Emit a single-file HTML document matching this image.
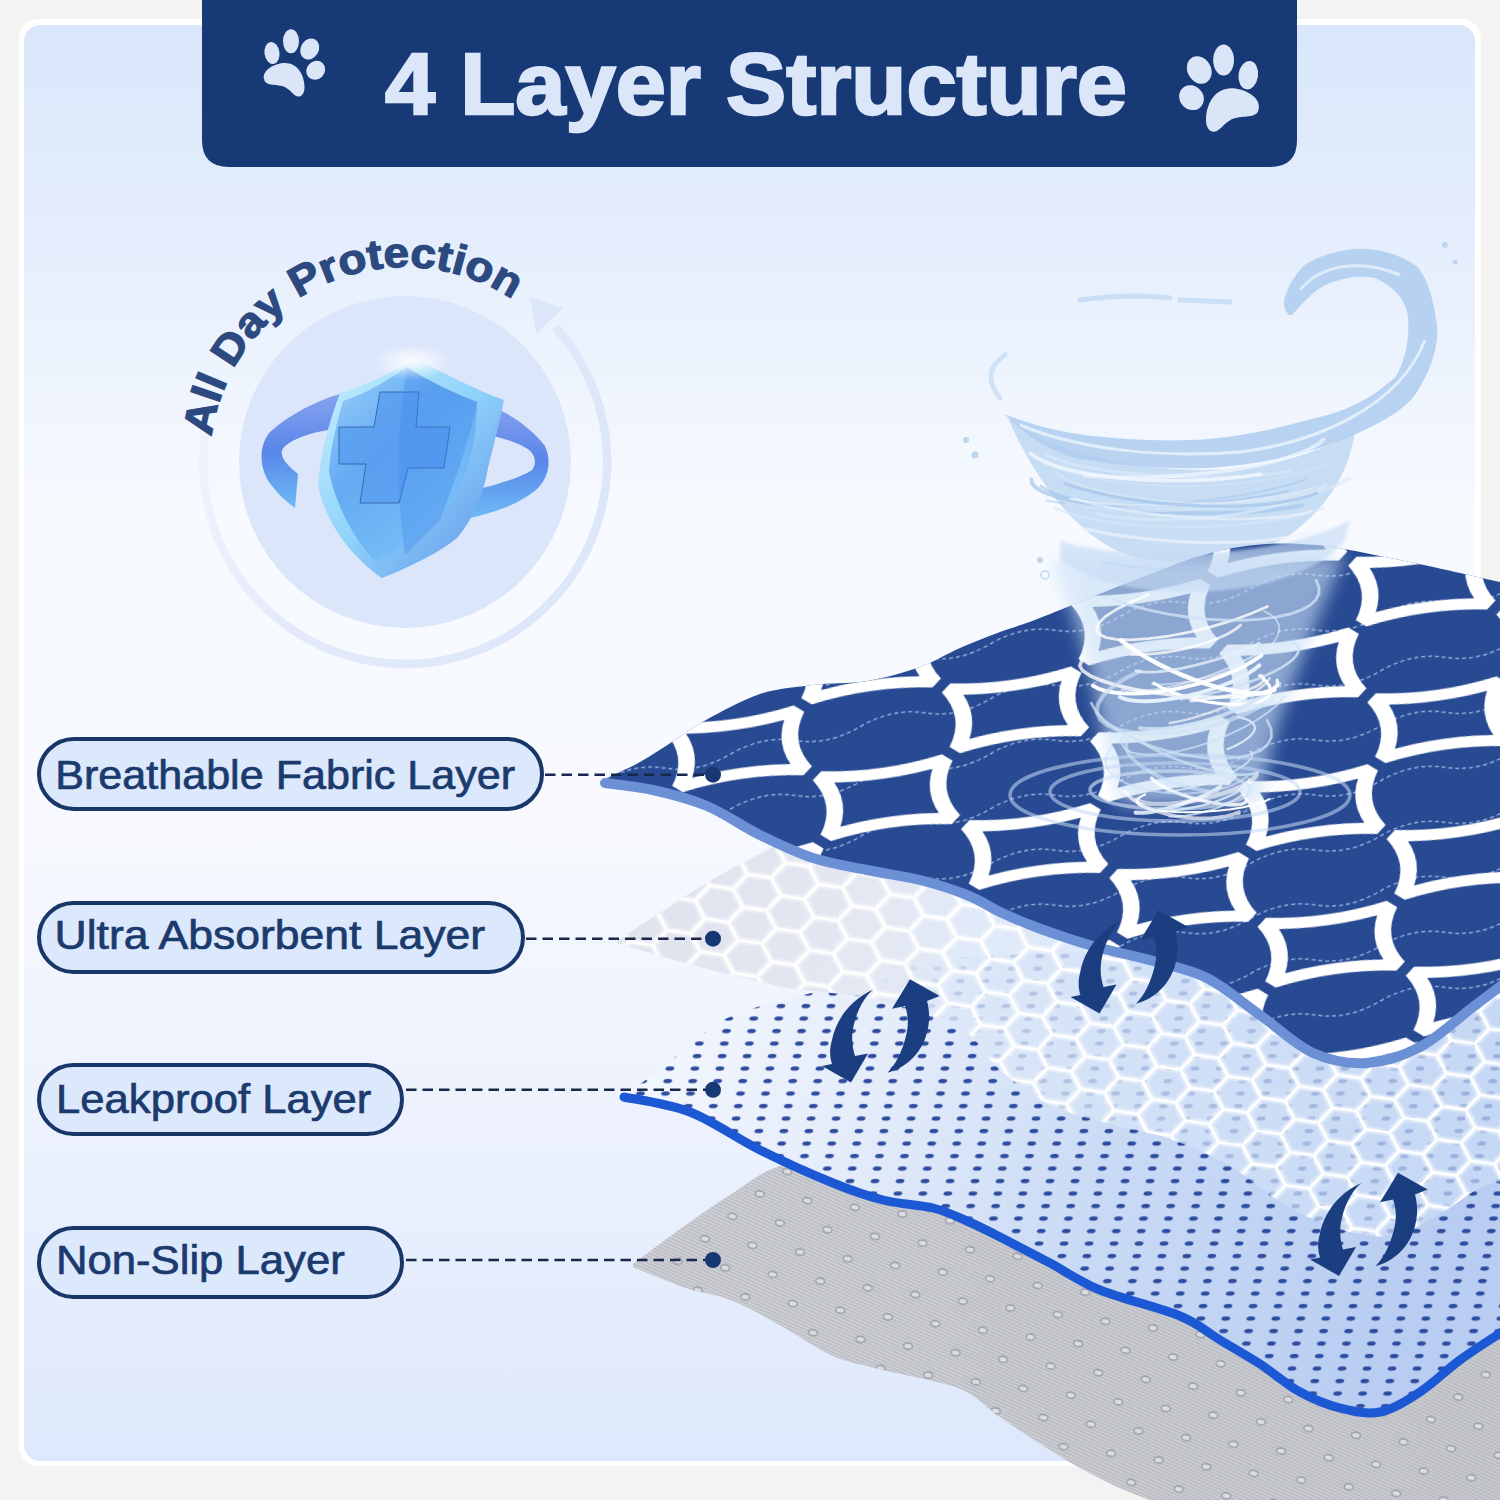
<!DOCTYPE html>
<html><head><meta charset="utf-8">
<style>
html,body{margin:0;padding:0;width:1500px;height:1500px;overflow:hidden;background:#f3f3f2;}
svg{display:block;position:absolute;left:0;top:0;}
text{font-family:"Liberation Sans",sans-serif;}
</style></head>
<body>
<svg width="1500" height="1500" viewBox="0 0 1500 1500">
<defs>
  <linearGradient id="cardg" x1="0" y1="0" x2="0" y2="1">
    <stop offset="0" stop-color="#d9e6fb"/>
    <stop offset="0.12" stop-color="#e2ecfc"/>
    <stop offset="0.34" stop-color="#f7faff"/>
    <stop offset="0.55" stop-color="#f7f9fe"/>
    <stop offset="0.75" stop-color="#edf2fd"/>
    <stop offset="1" stop-color="#dde8fc"/>
  </linearGradient>
  <linearGradient id="grayg" x1="0" y1="0" x2="1" y2="0">
    <stop offset="0" stop-color="#ced0d6"/>
    <stop offset="1" stop-color="#c8cad0"/>
  </linearGradient>
  <pattern id="stripes" width="6" height="3.2" patternUnits="userSpaceOnUse" patternTransform="rotate(24)">
    <rect width="6" height="1.3" fill="#a9abb3" opacity="0.55"/>
  </pattern>
  <pattern id="grdots" width="48" height="52" patternUnits="userSpaceOnUse" patternTransform="translate(640,1270) rotate(8)">
    <ellipse cx="12" cy="12" rx="4.5" ry="3" fill="#dcdde2" stroke="#999ca4" stroke-width="1.4"/>
    <ellipse cx="36" cy="38" rx="4.5" ry="3" fill="#dcdde2" stroke="#999ca4" stroke-width="1.4"/>
  </pattern>
  <linearGradient id="leakg" x1="640" y1="1020" x2="1400" y2="1330" gradientUnits="userSpaceOnUse">
    <stop offset="0" stop-color="#f4f7fd"/>
    <stop offset="0.3" stop-color="#e4ecfa"/>
    <stop offset="0.6" stop-color="#c9daf5"/>
    <stop offset="1" stop-color="#b8cdf1"/>
  </linearGradient>
  <pattern id="dots" width="25" height="12.5" patternUnits="userSpaceOnUse" patternTransform="translate(620,1000) skewX(-10)">
    <ellipse cx="12" cy="6" rx="4.3" ry="2.2" fill="#2e4c9f"/>
  </pattern>
  <linearGradient id="honeyg" x1="617" y1="900" x2="1450" y2="1150" gradientUnits="userSpaceOnUse">
    <stop offset="0" stop-color="#e0e3ed"/>
    <stop offset="0.3" stop-color="#e4e8f2"/>
    <stop offset="0.42" stop-color="#dbe7f8" stop-opacity="0.8"/>
    <stop offset="1" stop-color="#cadcf6" stop-opacity="0.7"/>
  </linearGradient>
  <pattern id="hex" width="72" height="41.6" patternUnits="userSpaceOnUse" patternTransform="translate(617,940) rotate(8) scale(1,0.8)">
    <path d="M0,20.8 L12,0 L36,0 L48,20.8 L36,41.6 L12,41.6 Z M48,20.8 L72,20.8" fill="none" stroke="#ffffff" stroke-width="9" opacity="0.35"/>
    <path d="M0,20.8 L12,0 L36,0 L48,20.8 L36,41.6 L12,41.6 Z M48,20.8 L72,20.8" fill="none" stroke="#ffffff" stroke-width="3.4"/>
  </pattern>
  <pattern id="trellis" width="160" height="120" patternUnits="userSpaceOnUse" patternTransform="translate(590,700) rotate(-8) scale(1.75,1.15)">
    <path d="M-36,-26 Q0,-17 36,-26 Q24,0 36,26 Q0,17 -36,26 Q-24,0 -36,-26 Z M124,-26 Q160,-17 196,-26 Q184,0 196,26 Q160,17 124,26 Q136,0 124,-26 Z M-36,94 Q0,103 36,94 Q24,120 36,146 Q0,137 -36,146 Q-24,120 -36,94 Z M124,94 Q160,103 196,94 Q184,120 196,146 Q160,137 124,146 Q136,120 124,94 Z M44,34 Q80,43 116,34 Q104,60 116,86 Q80,77 44,86 Q56,60 44,34 Z" fill="none" stroke="#ffffff" stroke-width="9.5" stroke-linejoin="miter" stroke-miterlimit="1.6"/>
  </pattern>
  <pattern id="stitch" width="130" height="55" patternUnits="userSpaceOnUse" patternTransform="translate(600,700) skewY(-12)">
    <path d="M0,27 Q32,15 65,27 T130,27" fill="none" stroke="#9fb6e3" stroke-width="1.3" stroke-dasharray="4 3"/>
  </pattern>
  <linearGradient id="ribg" x1="0" y1="0" x2="0" y2="1">
    <stop offset="0" stop-color="#86a2f0"/>
    <stop offset="0.5" stop-color="#5a86e8"/>
    <stop offset="1" stop-color="#6cbaf6"/>
  </linearGradient>
  <linearGradient id="shrim" x1="0" y1="0" x2="1" y2="1">
    <stop offset="0" stop-color="#c8f0ff"/>
    <stop offset="0.5" stop-color="#8fd2fa"/>
    <stop offset="1" stop-color="#5b8fe8"/>
  </linearGradient>
  <linearGradient id="shin" x1="0" y1="0" x2="0.7" y2="1">
    <stop offset="0" stop-color="#9ed2fa"/>
    <stop offset="0.45" stop-color="#64aaf3"/>
    <stop offset="1" stop-color="#7cc2f8"/>
  </linearGradient>
  <radialGradient id="glow" cx="0.5" cy="0.5" r="0.5">
    <stop offset="0" stop-color="#ffffff" stop-opacity="0.9"/>
    <stop offset="1" stop-color="#ffffff" stop-opacity="0"/>
  </radialGradient>
  <linearGradient id="ringg" x1="0" y1="0" x2="1" y2="0.3">
    <stop offset="0" stop-color="#f1f5fd"/>
    <stop offset="0.45" stop-color="#e3eafa"/>
    <stop offset="1" stop-color="#dde7f9"/>
  </linearGradient>
  <filter id="blur6" x="-20%" y="-20%" width="140%" height="140%"><feGaussianBlur stdDeviation="8"/></filter>
  <filter id="blur2" x="-20%" y="-20%" width="140%" height="140%"><feGaussianBlur stdDeviation="1.5"/></filter>
</defs>

<!-- card -->
<rect x="19" y="19" width="1462" height="1447" rx="20" fill="#ffffff"/>
<rect x="24" y="25" width="1451" height="1436" rx="16" fill="url(#cardg)"/>

<!-- ===== protection badge ===== -->
<g id="badge">
  <path d="M555.1,326.8 A202,202 0 1 1 205.0,433.9" fill="none" stroke="url(#ringg)" stroke-width="8.5"/>
  <path d="M529.6,297.2 L563.2,307.9 L536.5,332.9 Z" fill="#dbe6f8"/>
  <circle cx="405" cy="462" r="166" fill="#dbe6fb"/>
  <path id="arcp" d="M211.6,436.9 A195,195 0 0 1 597.0,428.1" fill="none"/>
  <text font-size="42" font-weight="bold" fill="#2c4a80" stroke="#2c4a80" stroke-width="1.2"><textPath href="#arcp" textLength="395.1" lengthAdjust="spacingAndGlyphs">All Day Protection</textPath></text>
  <!-- shield -->
  <g>
    <!-- ribbon left -->
    <path d="M340,394 C318,400 290,414 270,432 C258,446 259,470 272,486 C280,496 288,503 295,508 L298,474 C288,466 280,458 282,450 C288,440 310,432 340,428 Z" fill="url(#ribg)"/>
    <!-- ribbon right -->
    <path d="M478,401 C505,410 530,426 545,446 C552,462 548,478 538,488 C522,503 496,512 470,518 L476,490 C498,484 520,478 532,470 C538,462 534,452 526,448 C512,440 496,436 480,434 Z" fill="url(#ribg)"/>
    <!-- shield rim -->
    <path d="M415,359 C392,372 366,386 340,393 C330,420 320,452 318,485 C324,520 350,556 382,578 C412,566 440,552 457,538 C474,518 484,492 488,468 C494,444 500,420 504,400 C476,390 442,372 415,359 Z" fill="url(#shrim)"/>
    <!-- shield inner -->
    <path d="M407,367 C388,380 366,394 343,401 C336,426 330,450 329,472 C336,505 354,540 376,562 C402,548 428,530 446,510 C462,488 470,464 474,440 C476,428 477,414 477,402 C452,392 430,382 407,367 Z" fill="url(#shin)"/>
    <!-- cross -->
    <path d="M380,392 H419 L416,427 H450 L444,468 H408 L399,503 H360 L366,464 H339 L339,427 H374 Z" fill="#5a9ff0" stroke="#2e5da6" stroke-width="1" opacity="0.85"/>
    <path d="M407,367 C398,420 395,480 405,555 L440,520 C455,480 470,440 477,402 C452,392 430,382 407,367 Z" fill="#3f88ec" opacity="0.35"/>
    <ellipse cx="412" cy="362" rx="40" ry="18" fill="url(#glow)"/>
  </g>
</g>

<!-- ===== tornado ===== -->
<g id="tornado">
  <!-- bowl body -->
  <path d="M1008,418 C1030,470 1070,530 1120,552 C1170,570 1240,565 1290,535 C1330,505 1350,470 1355,430 C1320,455 1260,470 1200,470 C1120,468 1050,450 1008,418 Z" fill="#b4d1f0" opacity="0.7"/>
  <!-- top curl band -->
  <path d="M1004.7,414.3 C1030,440 1060,456 1085,459.8 C1130,467 1170,469 1209,468 C1260,464 1300,456 1333,443 C1375,428 1405,410 1416,393.6 C1430,372 1440,345 1436.7,323 C1432,290 1425,275 1416,265.5 C1395,252 1375,248 1354,249 C1330,252 1315,258 1304,265.5 C1292,278 1286,290 1283.8,302.7 C1284,310 1288,316 1292,315 C1305,300 1318,286 1333,282 C1350,276 1362,276 1374.7,277.9 C1392,285 1405,298 1407.8,315 C1410,340 1405,362 1395.4,377 C1370,400 1345,412 1312.7,418.4 C1280,428 1245,436 1209,439 C1170,442 1125,440 1085,435 C1050,430 1025,422 1004.7,414.3 Z" fill="#aecdef" opacity="0.85"/>
  <path d="M1020,425 C1080,450 1160,458 1240,452 C1320,442 1400,405 1425,340" fill="none" stroke="#e6f1fc" stroke-width="3" opacity="0.9"/>
  <path d="M1300,290 C1320,265 1360,258 1400,275" fill="none" stroke="#e6f1fc" stroke-width="3" opacity="0.8"/>
  <g fill="none" stroke-linecap="round">
    <path d="M1306.3,479.4 L1294.1,483.3 L1280.2,487.1 L1264.8,490.7 L1248.0,494.0 L1230.2,496.9 L1211.7,499.6 L1192.7,501.8 L1173.5,503.6 L1154.3,504.9 L1135.6,505.7 L1117.6,506.1 L1100.5,506.0 L1084.6,505.3 L1070.2,504.2 L1057.5,502.6 L1046.6,500.5" stroke="#a7c7ec" stroke-width="2.0" opacity="0.53"/>
    <path d="M1301.8,505.4 L1285.6,508.3 L1266.8,510.5 L1246.0,512.1 L1223.6,513.0 L1200.2,513.3 L1176.4,512.8 L1152.8,511.6 L1129.9,509.8 L1108.4,507.3 L1088.6,504.3 L1071.2,500.8 L1056.5,496.9 L1045.0,492.7 L1036.8,488.3 L1032.2,483.8 L1031.4,479.4" stroke="#a7c7ec" stroke-width="3.9" opacity="0.73"/>
    <path d="M1325.8,484.9 L1318.1,489.9 L1308.5,494.7 L1297.1,499.2 L1284.3,503.4 L1270.2,507.3 L1254.9,510.7 L1238.8,513.7 L1222.0,516.0 L1204.8,517.9 L1187.6,519.1 L1170.5,519.7 L1153.8,519.7 L1137.8,519.0 L1122.6,517.8 L1108.7,515.9 L1096.1,513.5" stroke="#d9e8f8" stroke-width="2.9" opacity="0.77"/>
    <path d="M1289.3,471.3 L1275.1,473.3 L1259.4,474.9 L1242.6,476.0 L1224.9,476.8 L1206.6,477.0 L1187.9,476.9 L1169.2,476.3 L1150.8,475.2 L1132.9,473.7 L1115.9,471.8 L1099.9,469.5 L1085.3,466.9 L1072.4,464.0 L1061.2,460.9 L1051.9,457.5 L1044.8,454.1" stroke="#d9e8f8" stroke-width="3.2" opacity="0.67"/>
    <path d="M1287.8,491.0 L1272.2,494.4 L1255.3,497.3 L1237.2,499.9 L1218.2,501.9 L1198.8,503.5 L1179.2,504.5 L1159.8,505.0 L1140.9,504.8 L1122.7,504.2 L1105.7,503.0 L1090.1,501.2 L1076.1,499.0 L1064.0,496.2 L1053.9,493.1 L1046.2,489.6 L1040.8,485.8" stroke="#a7c7ec" stroke-width="2.3" opacity="0.70"/>
    <path d="M1312.7,488.6 L1301.8,491.5 L1289.5,494.2 L1275.8,496.7 L1261.1,498.9 L1245.3,500.9 L1228.8,502.5 L1211.8,503.8 L1194.5,504.7 L1177.0,505.2 L1159.7,505.4 L1142.7,505.2 L1126.2,504.6 L1110.6,503.6 L1095.9,502.3 L1082.3,500.7 L1070.1,498.7" stroke="#d9e8f8" stroke-width="2.6" opacity="0.88"/>
    <path d="M1331.8,460.9 L1320.6,466.1 L1307.0,470.9 L1291.2,475.2 L1273.5,478.8 L1254.2,481.7 L1233.7,483.9 L1212.4,485.3 L1190.6,486.0 L1168.6,485.8 L1147.0,484.8 L1126.1,483.0 L1106.2,480.4 L1087.7,477.1 L1070.9,473.2 L1056.2,468.7 L1043.7,463.7" stroke="#d9e8f8" stroke-width="1.7" opacity="0.54"/>
    <path d="M1318.5,485.9 L1307.8,490.4 L1294.5,494.4 L1278.9,497.7 L1261.4,500.2 L1242.3,502.0 L1222.0,503.0 L1201.1,503.1 L1179.9,502.3 L1158.9,500.8 L1138.7,498.4 L1119.5,495.3 L1102.0,491.5 L1086.4,487.1 L1073.1,482.2 L1062.4,476.9 L1054.5,471.4" stroke="#d9e8f8" stroke-width="2.2" opacity="0.65"/>
    <path d="M1314.6,528.7 L1308.4,531.7 L1300.1,534.5 L1289.9,536.9 L1277.9,538.9 L1264.3,540.5 L1249.3,541.6 L1233.2,542.3 L1216.2,542.6 L1198.6,542.3 L1180.8,541.6 L1162.9,540.4 L1145.3,538.8 L1128.3,536.7 L1112.2,534.3 L1097.1,531.5 L1083.5,528.5" stroke="#eef5fd" stroke-width="3.3" opacity="0.66"/>
    <path d="M1298.6,551.7 L1291.8,554.8 L1283.6,557.7 L1273.8,560.3 L1262.8,562.7 L1250.7,564.7 L1237.6,566.5 L1223.8,567.8 L1209.5,568.8 L1194.9,569.3 L1180.2,569.4 L1165.6,569.2 L1151.4,568.5 L1137.9,567.4 L1125.1,565.9 L1113.3,564.0 L1102.7,561.9" stroke="#a7c7ec" stroke-width="2.2" opacity="0.67"/>
    <path d="M1349.9,478.4 L1341.7,482.8 L1330.7,487.2 L1317.3,491.4 L1301.7,495.3 L1284.1,498.9 L1264.9,502.1 L1244.4,504.8 L1223.1,506.9 L1201.2,508.6 L1179.2,509.6 L1157.5,510.1 L1136.5,509.9 L1116.6,509.1 L1098.1,507.8 L1081.3,505.8 L1066.7,503.3" stroke="#d9e8f8" stroke-width="3.6" opacity="0.57"/>
    <path d="M1316.4,493.2 L1307.0,496.6 L1295.7,499.5 L1282.7,502.0 L1268.2,503.9 L1252.4,505.3 L1235.5,506.1 L1217.8,506.3 L1199.5,505.9 L1181.0,504.9 L1162.4,503.4 L1144.1,501.3 L1126.3,498.7 L1109.2,495.6 L1093.2,492.0 L1078.5,488.1 L1065.2,483.8" stroke="#a7c7ec" stroke-width="3.1" opacity="0.80"/>
    <path d="M1323.6,508.0 L1310.4,512.2 L1295.5,516.0 L1279.0,519.3 L1261.3,522.0 L1242.6,524.2 L1223.1,525.8 L1203.3,526.8 L1183.3,527.1 L1163.5,526.8 L1144.2,525.8 L1125.8,524.2 L1108.4,522.0 L1092.3,519.2 L1077.9,515.9 L1065.3,512.1 L1054.7,507.9" stroke="#d9e8f8" stroke-width="3.1" opacity="0.52"/>
    <path d="M1323.4,439.5 L1318.4,443.9 L1311.0,448.3 L1301.5,452.6 L1290.0,456.7 L1276.6,460.7 L1261.7,464.3 L1245.3,467.6 L1227.9,470.5 L1209.6,472.9 L1190.8,474.8 L1171.8,476.2 L1152.9,477.1 L1134.5,477.4 L1116.7,477.2 L1100.0,476.3 L1084.5,475.0" stroke="#eef5fd" stroke-width="3.9" opacity="0.75"/>
    <path d="M1260.5,474.2 L1245.0,476.5 L1228.6,478.3 L1211.6,479.6 L1194.1,480.4 L1176.4,480.7 L1158.8,480.5 L1141.3,479.8 L1124.4,478.5 L1108.2,476.8 L1092.9,474.6 L1078.7,471.9 L1065.8,468.9 L1054.5,465.5 L1044.7,461.7 L1036.7,457.7 L1030.6,453.5" stroke="#eef5fd" stroke-width="3.6" opacity="0.90"/>
    <path d="M1311.7,511.3 L1302.4,513.6 L1291.2,515.6 L1278.3,517.1 L1263.9,518.2 L1248.4,518.8 L1231.8,519.0 L1214.5,518.7 L1196.8,518.0 L1179.0,516.7 L1161.3,515.1 L1144.0,513.1 L1127.5,510.7 L1112.0,507.9 L1097.8,504.9 L1085.0,501.7 L1073.9,498.2" stroke="#eef5fd" stroke-width="2.8" opacity="0.58"/>
    <path d="M1080,300 C1110,296 1140,294 1170,298 M1180,300 L1230,302" stroke="#bcd6f2" stroke-width="5" opacity="0.7"/>
    <path d="M1000,398 C985,380 990,365 1005,355" stroke="#bcd6f2" stroke-width="5" opacity="0.6"/>
    <circle cx="966" cy="440" r="3" fill="#bcd6f2" stroke="none"/>
    <circle cx="975" cy="455" r="3.5" fill="#bcd6f2" stroke="none"/>
    <circle cx="1040" cy="560" r="3" fill="#bcd6f2" stroke="none"/>
    <circle cx="1045" cy="575" r="4" fill="none" stroke="#bcd6f2" stroke-width="1.5"/>
    <circle cx="1445" cy="245" r="3" fill="#bcd6f2" stroke="none"/>
    <circle cx="1455" cy="262" r="2.5" fill="#bcd6f2" stroke="none"/>
  </g>
</g>

<!-- ===== LAYERS ===== -->
<g id="layers">
  <path d="M633.0,1264.0 C641.3,1257.8 666.3,1238.8 683.0,1227.0 C699.7,1215.2 717.3,1203.0 733.0,1193.0 C748.7,1183.0 757.5,1174.2 777.0,1167.0 C796.5,1159.8 812.8,1154.5 850.0,1150.0 C887.2,1145.5 891.7,1141.7 1000.0,1140.0 C1108.3,1138.3 1416.7,1140.0 1500.0,1140.0 L1500,1500 L1150,1500 L1150.0,1500.0 C1145.0,1498.0 1131.7,1493.3 1120.0,1488.0 C1108.3,1482.7 1091.7,1474.3 1080.0,1468.0 C1068.3,1461.7 1063.3,1458.5 1050.0,1450.0 C1036.7,1441.5 1013.8,1426.7 1000.0,1417.0 C986.2,1407.3 978.2,1398.0 967.0,1392.0 C955.8,1386.0 947.0,1384.7 933.0,1381.0 C919.0,1377.3 899.7,1374.2 883.0,1370.0 C866.3,1365.8 849.7,1363.2 833.0,1356.0 C816.3,1348.8 799.7,1336.2 783.0,1327.0 C766.3,1317.8 749.7,1307.7 733.0,1301.0 C716.3,1294.3 699.7,1292.7 683.0,1287.0 C666.3,1281.3 641.3,1270.3 633.0,1267.0 Z" fill="url(#grayg)"/>
  <path d="M633.0,1264.0 C641.3,1257.8 666.3,1238.8 683.0,1227.0 C699.7,1215.2 717.3,1203.0 733.0,1193.0 C748.7,1183.0 757.5,1174.2 777.0,1167.0 C796.5,1159.8 812.8,1154.5 850.0,1150.0 C887.2,1145.5 891.7,1141.7 1000.0,1140.0 C1108.3,1138.3 1416.7,1140.0 1500.0,1140.0 L1500,1500 L1150,1500 L1150.0,1500.0 C1145.0,1498.0 1131.7,1493.3 1120.0,1488.0 C1108.3,1482.7 1091.7,1474.3 1080.0,1468.0 C1068.3,1461.7 1063.3,1458.5 1050.0,1450.0 C1036.7,1441.5 1013.8,1426.7 1000.0,1417.0 C986.2,1407.3 978.2,1398.0 967.0,1392.0 C955.8,1386.0 947.0,1384.7 933.0,1381.0 C919.0,1377.3 899.7,1374.2 883.0,1370.0 C866.3,1365.8 849.7,1363.2 833.0,1356.0 C816.3,1348.8 799.7,1336.2 783.0,1327.0 C766.3,1317.8 749.7,1307.7 733.0,1301.0 C716.3,1294.3 699.7,1292.7 683.0,1287.0 C666.3,1281.3 641.3,1270.3 633.0,1267.0 Z" fill="url(#stripes)"/>
  <path d="M633.0,1264.0 C641.3,1257.8 666.3,1238.8 683.0,1227.0 C699.7,1215.2 717.3,1203.0 733.0,1193.0 C748.7,1183.0 757.5,1174.2 777.0,1167.0 C796.5,1159.8 812.8,1154.5 850.0,1150.0 C887.2,1145.5 891.7,1141.7 1000.0,1140.0 C1108.3,1138.3 1416.7,1140.0 1500.0,1140.0 L1500,1500 L1150,1500 L1150.0,1500.0 C1145.0,1498.0 1131.7,1493.3 1120.0,1488.0 C1108.3,1482.7 1091.7,1474.3 1080.0,1468.0 C1068.3,1461.7 1063.3,1458.5 1050.0,1450.0 C1036.7,1441.5 1013.8,1426.7 1000.0,1417.0 C986.2,1407.3 978.2,1398.0 967.0,1392.0 C955.8,1386.0 947.0,1384.7 933.0,1381.0 C919.0,1377.3 899.7,1374.2 883.0,1370.0 C866.3,1365.8 849.7,1363.2 833.0,1356.0 C816.3,1348.8 799.7,1336.2 783.0,1327.0 C766.3,1317.8 749.7,1307.7 733.0,1301.0 C716.3,1294.3 699.7,1292.7 683.0,1287.0 C666.3,1281.3 641.3,1270.3 633.0,1267.0 Z" fill="url(#grdots)"/>
  <path d="M624.0,1094.0 C630.0,1090.0 644.0,1082.0 660.0,1070.0 C676.0,1058.0 700.0,1033.5 720.0,1022.0 C740.0,1010.5 758.3,1007.2 780.0,1001.0 C801.7,994.8 813.3,992.7 850.0,985.0 C886.7,977.3 891.7,960.8 1000.0,955.0 C1108.3,949.2 1416.7,950.8 1500.0,950.0 L1500,1332 L1502.0,1332.0 C1495.0,1336.7 1473.7,1350.0 1460.0,1360.0 C1446.3,1370.0 1433.3,1383.3 1420.0,1392.0 C1406.7,1400.7 1393.3,1409.3 1380.0,1412.0 C1366.7,1414.7 1353.3,1411.3 1340.0,1408.0 C1326.7,1404.7 1313.3,1399.3 1300.0,1392.0 C1286.7,1384.7 1273.3,1372.7 1260.0,1364.0 C1246.7,1355.3 1233.3,1348.0 1220.0,1340.0 C1206.7,1332.0 1200.0,1324.3 1180.0,1316.0 C1160.0,1307.7 1121.7,1298.8 1100.0,1290.0 C1078.3,1281.2 1066.7,1271.8 1050.0,1263.0 C1033.3,1254.2 1013.8,1244.0 1000.0,1237.0 C986.2,1230.0 978.2,1225.8 967.0,1221.0 C955.8,1216.2 947.0,1211.5 933.0,1208.0 C919.0,1204.5 899.7,1204.2 883.0,1200.0 C866.3,1195.8 853.5,1191.3 833.0,1183.0 C812.5,1174.7 783.8,1161.8 760.0,1150.0 C736.2,1138.2 712.7,1120.8 690.0,1112.0 C667.3,1103.2 635.0,1099.5 624.0,1097.0 Z" fill="url(#leakg)"/>
  <path d="M624.0,1094.0 C630.0,1090.0 644.0,1082.0 660.0,1070.0 C676.0,1058.0 700.0,1033.5 720.0,1022.0 C740.0,1010.5 758.3,1007.2 780.0,1001.0 C801.7,994.8 813.3,992.7 850.0,985.0 C886.7,977.3 891.7,960.8 1000.0,955.0 C1108.3,949.2 1416.7,950.8 1500.0,950.0 L1500,1332 L1502.0,1332.0 C1495.0,1336.7 1473.7,1350.0 1460.0,1360.0 C1446.3,1370.0 1433.3,1383.3 1420.0,1392.0 C1406.7,1400.7 1393.3,1409.3 1380.0,1412.0 C1366.7,1414.7 1353.3,1411.3 1340.0,1408.0 C1326.7,1404.7 1313.3,1399.3 1300.0,1392.0 C1286.7,1384.7 1273.3,1372.7 1260.0,1364.0 C1246.7,1355.3 1233.3,1348.0 1220.0,1340.0 C1206.7,1332.0 1200.0,1324.3 1180.0,1316.0 C1160.0,1307.7 1121.7,1298.8 1100.0,1290.0 C1078.3,1281.2 1066.7,1271.8 1050.0,1263.0 C1033.3,1254.2 1013.8,1244.0 1000.0,1237.0 C986.2,1230.0 978.2,1225.8 967.0,1221.0 C955.8,1216.2 947.0,1211.5 933.0,1208.0 C919.0,1204.5 899.7,1204.2 883.0,1200.0 C866.3,1195.8 853.5,1191.3 833.0,1183.0 C812.5,1174.7 783.8,1161.8 760.0,1150.0 C736.2,1138.2 712.7,1120.8 690.0,1112.0 C667.3,1103.2 635.0,1099.5 624.0,1097.0 Z" fill="url(#dots)"/>
  <path d="M1502.0,1332.0 C1495.0,1336.7 1473.7,1350.0 1460.0,1360.0 C1446.3,1370.0 1433.3,1383.3 1420.0,1392.0 C1406.7,1400.7 1393.3,1409.3 1380.0,1412.0 C1366.7,1414.7 1353.3,1411.3 1340.0,1408.0 C1326.7,1404.7 1313.3,1399.3 1300.0,1392.0 C1286.7,1384.7 1273.3,1372.7 1260.0,1364.0 C1246.7,1355.3 1233.3,1348.0 1220.0,1340.0 C1206.7,1332.0 1200.0,1324.3 1180.0,1316.0 C1160.0,1307.7 1121.7,1298.8 1100.0,1290.0 C1078.3,1281.2 1066.7,1271.8 1050.0,1263.0 C1033.3,1254.2 1013.8,1244.0 1000.0,1237.0 C986.2,1230.0 978.2,1225.8 967.0,1221.0 C955.8,1216.2 947.0,1211.5 933.0,1208.0 C919.0,1204.5 899.7,1204.2 883.0,1200.0 C866.3,1195.8 853.5,1191.3 833.0,1183.0 C812.5,1174.7 783.8,1161.8 760.0,1150.0 C736.2,1138.2 712.7,1120.8 690.0,1112.0 C667.3,1103.2 635.0,1099.5 624.0,1097.0" fill="none" stroke="#1d58d4" stroke-width="9" stroke-linecap="round"/>
  <path d="M617.0,941.0 C630.8,932.0 675.0,902.2 700.0,887.0 C725.0,871.8 750.3,858.7 767.0,850.0 C783.7,841.3 777.8,843.3 800.0,835.0 C822.2,826.7 783.3,805.8 900.0,800.0 C1016.7,794.2 1400.0,800.0 1500.0,800.0 L1500.0,1181.0 C1496.0,1182.5 1486.0,1184.5 1476.0,1190.0 C1466.0,1195.5 1453.5,1206.5 1440.0,1214.0 C1426.5,1221.5 1410.0,1232.0 1395.0,1235.0 C1380.0,1238.0 1367.5,1236.5 1350.0,1232.0 C1332.5,1227.5 1310.0,1219.0 1290.0,1208.0 C1270.0,1197.0 1250.0,1177.5 1230.0,1166.0 C1210.0,1154.5 1190.0,1146.0 1170.0,1139.0 C1150.0,1132.0 1130.0,1129.7 1110.0,1124.0 C1090.0,1118.3 1068.3,1114.0 1050.0,1105.0 C1031.7,1096.0 1015.0,1082.8 1000.0,1070.0 C985.0,1057.2 980.0,1039.7 960.0,1028.0 C940.0,1016.3 901.2,1005.8 880.0,1000.0 C858.8,994.2 849.2,995.2 833.0,993.0 C816.8,990.8 805.2,991.3 783.0,987.0 C760.8,982.7 727.7,974.3 700.0,967.0 C672.3,959.7 630.8,947.0 617.0,943.0 Z" fill="url(#honeyg)"/>
  <path d="M617.0,941.0 C630.8,932.0 675.0,902.2 700.0,887.0 C725.0,871.8 750.3,858.7 767.0,850.0 C783.7,841.3 777.8,843.3 800.0,835.0 C822.2,826.7 783.3,805.8 900.0,800.0 C1016.7,794.2 1400.0,800.0 1500.0,800.0 L1500.0,1181.0 C1496.0,1182.5 1486.0,1184.5 1476.0,1190.0 C1466.0,1195.5 1453.5,1206.5 1440.0,1214.0 C1426.5,1221.5 1410.0,1232.0 1395.0,1235.0 C1380.0,1238.0 1367.5,1236.5 1350.0,1232.0 C1332.5,1227.5 1310.0,1219.0 1290.0,1208.0 C1270.0,1197.0 1250.0,1177.5 1230.0,1166.0 C1210.0,1154.5 1190.0,1146.0 1170.0,1139.0 C1150.0,1132.0 1130.0,1129.7 1110.0,1124.0 C1090.0,1118.3 1068.3,1114.0 1050.0,1105.0 C1031.7,1096.0 1015.0,1082.8 1000.0,1070.0 C985.0,1057.2 980.0,1039.7 960.0,1028.0 C940.0,1016.3 901.2,1005.8 880.0,1000.0 C858.8,994.2 849.2,995.2 833.0,993.0 C816.8,990.8 805.2,991.3 783.0,987.0 C760.8,982.7 727.7,974.3 700.0,967.0 C672.3,959.7 630.8,947.0 617.0,943.0 Z" fill="url(#hex)"/>
  <path d="M605.0,779.0 C610.8,776.2 628.8,768.2 640.0,762.0 C651.2,755.8 661.0,749.0 672.0,742.0 C683.0,735.0 691.3,728.0 706.0,720.0 C720.7,712.0 742.2,699.8 760.0,694.0 C777.8,688.2 795.2,687.2 813.0,685.0 C830.8,682.8 849.2,684.0 867.0,681.0 C884.8,678.0 904.5,672.5 920.0,667.0 C935.5,661.5 946.7,653.8 960.0,648.0 C973.3,642.2 986.7,637.0 1000.0,632.0 C1013.3,627.0 1018.0,626.5 1040.0,618.0 C1062.0,609.5 1105.3,591.3 1132.0,581.0 C1158.7,570.7 1179.5,562.0 1200.0,556.0 C1220.5,550.0 1235.7,546.8 1255.0,545.0 C1274.3,543.2 1291.8,542.5 1316.0,545.0 C1340.2,547.5 1369.3,553.8 1400.0,560.0 C1430.7,566.2 1483.3,578.3 1500.0,582.0 L1500,986 L1502.0,985.0 C1497.2,988.7 1486.7,996.7 1473.0,1007.0 C1459.3,1017.3 1437.7,1037.7 1420.0,1047.0 C1402.3,1056.3 1384.8,1062.0 1367.0,1063.0 C1349.2,1064.0 1330.8,1061.0 1313.0,1053.0 C1295.2,1045.0 1277.7,1027.5 1260.0,1015.0 C1242.3,1002.5 1224.8,987.0 1207.0,978.0 C1189.2,969.0 1170.8,966.0 1153.0,961.0 C1135.2,956.0 1114.3,951.8 1100.0,948.0 C1085.7,944.2 1078.2,941.7 1067.0,938.0 C1055.8,934.3 1044.2,930.3 1033.0,926.0 C1021.8,921.7 1011.0,917.2 1000.0,912.0 C989.0,906.8 980.3,900.3 967.0,895.0 C953.7,889.7 936.7,884.2 920.0,880.0 C903.3,875.8 884.8,873.7 867.0,870.0 C849.2,866.3 830.8,863.8 813.0,858.0 C795.2,852.2 777.7,843.7 760.0,835.0 C742.3,826.3 724.8,813.5 707.0,806.0 C689.2,798.5 670.0,793.8 653.0,790.0 C636.0,786.2 613.0,784.2 605.0,783.0 Z" fill="#284a92"/>
  <path d="M605.0,779.0 C610.8,776.2 628.8,768.2 640.0,762.0 C651.2,755.8 661.0,749.0 672.0,742.0 C683.0,735.0 691.3,728.0 706.0,720.0 C720.7,712.0 742.2,699.8 760.0,694.0 C777.8,688.2 795.2,687.2 813.0,685.0 C830.8,682.8 849.2,684.0 867.0,681.0 C884.8,678.0 904.5,672.5 920.0,667.0 C935.5,661.5 946.7,653.8 960.0,648.0 C973.3,642.2 986.7,637.0 1000.0,632.0 C1013.3,627.0 1018.0,626.5 1040.0,618.0 C1062.0,609.5 1105.3,591.3 1132.0,581.0 C1158.7,570.7 1179.5,562.0 1200.0,556.0 C1220.5,550.0 1235.7,546.8 1255.0,545.0 C1274.3,543.2 1291.8,542.5 1316.0,545.0 C1340.2,547.5 1369.3,553.8 1400.0,560.0 C1430.7,566.2 1483.3,578.3 1500.0,582.0 L1500,986 L1502.0,985.0 C1497.2,988.7 1486.7,996.7 1473.0,1007.0 C1459.3,1017.3 1437.7,1037.7 1420.0,1047.0 C1402.3,1056.3 1384.8,1062.0 1367.0,1063.0 C1349.2,1064.0 1330.8,1061.0 1313.0,1053.0 C1295.2,1045.0 1277.7,1027.5 1260.0,1015.0 C1242.3,1002.5 1224.8,987.0 1207.0,978.0 C1189.2,969.0 1170.8,966.0 1153.0,961.0 C1135.2,956.0 1114.3,951.8 1100.0,948.0 C1085.7,944.2 1078.2,941.7 1067.0,938.0 C1055.8,934.3 1044.2,930.3 1033.0,926.0 C1021.8,921.7 1011.0,917.2 1000.0,912.0 C989.0,906.8 980.3,900.3 967.0,895.0 C953.7,889.7 936.7,884.2 920.0,880.0 C903.3,875.8 884.8,873.7 867.0,870.0 C849.2,866.3 830.8,863.8 813.0,858.0 C795.2,852.2 777.7,843.7 760.0,835.0 C742.3,826.3 724.8,813.5 707.0,806.0 C689.2,798.5 670.0,793.8 653.0,790.0 C636.0,786.2 613.0,784.2 605.0,783.0 Z" fill="url(#stitch)"/>
  <path d="M605.0,779.0 C610.8,776.2 628.8,768.2 640.0,762.0 C651.2,755.8 661.0,749.0 672.0,742.0 C683.0,735.0 691.3,728.0 706.0,720.0 C720.7,712.0 742.2,699.8 760.0,694.0 C777.8,688.2 795.2,687.2 813.0,685.0 C830.8,682.8 849.2,684.0 867.0,681.0 C884.8,678.0 904.5,672.5 920.0,667.0 C935.5,661.5 946.7,653.8 960.0,648.0 C973.3,642.2 986.7,637.0 1000.0,632.0 C1013.3,627.0 1018.0,626.5 1040.0,618.0 C1062.0,609.5 1105.3,591.3 1132.0,581.0 C1158.7,570.7 1179.5,562.0 1200.0,556.0 C1220.5,550.0 1235.7,546.8 1255.0,545.0 C1274.3,543.2 1291.8,542.5 1316.0,545.0 C1340.2,547.5 1369.3,553.8 1400.0,560.0 C1430.7,566.2 1483.3,578.3 1500.0,582.0 L1500,986 L1502.0,985.0 C1497.2,988.7 1486.7,996.7 1473.0,1007.0 C1459.3,1017.3 1437.7,1037.7 1420.0,1047.0 C1402.3,1056.3 1384.8,1062.0 1367.0,1063.0 C1349.2,1064.0 1330.8,1061.0 1313.0,1053.0 C1295.2,1045.0 1277.7,1027.5 1260.0,1015.0 C1242.3,1002.5 1224.8,987.0 1207.0,978.0 C1189.2,969.0 1170.8,966.0 1153.0,961.0 C1135.2,956.0 1114.3,951.8 1100.0,948.0 C1085.7,944.2 1078.2,941.7 1067.0,938.0 C1055.8,934.3 1044.2,930.3 1033.0,926.0 C1021.8,921.7 1011.0,917.2 1000.0,912.0 C989.0,906.8 980.3,900.3 967.0,895.0 C953.7,889.7 936.7,884.2 920.0,880.0 C903.3,875.8 884.8,873.7 867.0,870.0 C849.2,866.3 830.8,863.8 813.0,858.0 C795.2,852.2 777.7,843.7 760.0,835.0 C742.3,826.3 724.8,813.5 707.0,806.0 C689.2,798.5 670.0,793.8 653.0,790.0 C636.0,786.2 613.0,784.2 605.0,783.0 Z" fill="url(#trellis)"/>
  <path d="M1502.0,985.0 C1497.2,988.7 1486.7,996.7 1473.0,1007.0 C1459.3,1017.3 1437.7,1037.7 1420.0,1047.0 C1402.3,1056.3 1384.8,1062.0 1367.0,1063.0 C1349.2,1064.0 1330.8,1061.0 1313.0,1053.0 C1295.2,1045.0 1277.7,1027.5 1260.0,1015.0 C1242.3,1002.5 1224.8,987.0 1207.0,978.0 C1189.2,969.0 1170.8,966.0 1153.0,961.0 C1135.2,956.0 1114.3,951.8 1100.0,948.0 C1085.7,944.2 1078.2,941.7 1067.0,938.0 C1055.8,934.3 1044.2,930.3 1033.0,926.0 C1021.8,921.7 1011.0,917.2 1000.0,912.0 C989.0,906.8 980.3,900.3 967.0,895.0 C953.7,889.7 936.7,884.2 920.0,880.0 C903.3,875.8 884.8,873.7 867.0,870.0 C849.2,866.3 830.8,863.8 813.0,858.0 C795.2,852.2 777.7,843.7 760.0,835.0 C742.3,826.3 724.8,813.5 707.0,806.0 C689.2,798.5 670.0,793.8 653.0,790.0 C636.0,786.2 613.0,784.2 605.0,783.0" fill="none" stroke="#6b90d6" stroke-width="10" stroke-linecap="round"/>
</g>

<!-- tornado lower part over navy -->
<g id="tornado2">
  <path d="M1050,560 C1070,600 1090,660 1100,720 C1108,760 1115,790 1120,805 L1260,805 C1266,770 1275,730 1290,690 C1305,650 1325,600 1345,555 Z" fill="#c9dff6" opacity="0.62" filter="url(#blur6)"/>
  <path d="M1060,560 C1100,590 1180,600 1260,585 C1300,575 1330,560 1345,540 L1350,520 C1300,548 1200,560 1120,552 C1090,548 1070,545 1060,540 Z" fill="#c5dbf4" opacity="0.62" filter="url(#blur2)"/>
  <g fill="none" stroke-linecap="round">
    <path d="M1239.0,812.2 L1233.0,814.4 L1226.1,816.2 L1218.6,817.4 L1210.6,818.2 L1202.1,818.4 L1193.4,818.1 L1184.5,817.3 L1175.8,816.0 L1167.2,814.2 L1159.0,811.9 L1151.3,809.2 L1144.2,806.2 L1138.0,802.8 L1132.6,799.2 L1128.2,795.5 L1124.9,791.6" stroke="#ffffff" stroke-width="3.6" opacity="0.69"/>
    <path d="M1261.5,655.3 L1253.6,660.7 L1244.3,666.0 L1233.9,671.0 L1222.4,675.7 L1210.2,680.1 L1197.5,683.9 L1184.5,687.2 L1171.4,689.8 L1158.5,691.8 L1146.0,693.1 L1134.3,693.6 L1123.4,693.4 L1113.6,692.5 L1105.2,690.8 L1098.2,688.5 L1092.7,685.5" stroke="#ffffff" stroke-width="3.9" opacity="0.98"/>
    <path d="M1238.3,717.2 L1242.6,718.1 L1246.3,719.3 L1249.4,720.6 L1251.8,722.2 L1253.5,723.9 L1254.6,725.9 L1254.9,727.9 L1254.5,730.1 L1253.3,732.4 L1251.5,734.7 L1249.0,737.2 L1245.9,739.6 L1242.1,742.1 L1237.7,744.5 L1232.8,746.9 L1227.4,749.2" stroke="#e6f0fb" stroke-width="2.2" opacity="0.86"/>
    <path d="M1257.6,653.5 L1249.6,658.0 L1241.0,662.3 L1231.9,666.5 L1222.5,670.5 L1212.9,674.3 L1203.1,677.7 L1193.3,680.9 L1183.5,683.6 L1174.0,686.0 L1164.8,687.9 L1156.0,689.4 L1147.7,690.4 L1140.1,691.0 L1133.1,691.0 L1126.9,690.6 L1121.6,689.7" stroke="#e6f0fb" stroke-width="2.2" opacity="0.66"/>
    <path d="M1284.6,696.4 L1278.0,704.0 L1268.7,711.9 L1257.0,719.9 L1243.4,727.6 L1228.3,734.8 L1212.4,741.2 L1196.2,746.6 L1180.3,750.7 L1165.4,753.4 L1151.9,754.7 L1140.5,754.3 L1131.5,752.5 L1125.3,749.2 L1122.0,744.5 L1122.0,738.7 L1125.0,732.0" stroke="#cfe2f6" stroke-width="2.0" opacity="0.76"/>
    <path d="M1253.6,773.6 L1248.7,774.4 L1243.1,774.7 L1236.8,774.5 L1229.8,773.9 L1222.3,772.8 L1214.4,771.2 L1206.1,769.1 L1197.6,766.7 L1188.9,763.9 L1180.1,760.7 L1171.4,757.2 L1162.8,753.4 L1154.5,749.3 L1146.6,745.1 L1139.1,740.8 L1132.1,736.4" stroke="#cfe2f6" stroke-width="2.8" opacity="0.76"/>
    <path d="M1243.2,795.0 L1245.8,798.0 L1246.4,800.6 L1245.0,802.7 L1241.5,804.1 L1236.3,804.8 L1229.4,804.8 L1221.3,804.1 L1212.1,802.7 L1202.4,800.6 L1192.5,798.0 L1182.9,795.0 L1173.9,791.6 L1166.0,788.1 L1159.4,784.6 L1154.6,781.2 L1151.6,778.1" stroke="#ffffff" stroke-width="3.4" opacity="0.86"/>
    <path d="M1259.7,676.0 L1265.7,680.8 L1269.4,685.7 L1270.8,690.3 L1269.7,694.4 L1266.2,698.0 L1260.5,700.9 L1252.8,703.0 L1243.3,704.1 L1232.3,704.3 L1220.5,703.6 L1208.0,702.0 L1195.5,699.5 L1183.4,696.2 L1172.2,692.3 L1162.2,687.9 L1153.9,683.2" stroke="#ffffff" stroke-width="3.2" opacity="1.00"/>
    <path d="M1294.0,642.6 L1297.2,645.1 L1298.6,648.1 L1298.4,651.5 L1296.6,655.3 L1293.0,659.2 L1287.9,663.4 L1281.3,667.7 L1273.3,672.0 L1264.1,676.3 L1253.8,680.4 L1242.6,684.4 L1230.8,688.1 L1218.5,691.5 L1205.9,694.5 L1193.2,697.1 L1180.8,699.2" stroke="#cfe2f6" stroke-width="2.7" opacity="0.84"/>
    <path d="M1247.0,776.9 L1239.1,782.1 L1229.1,786.4 L1217.1,789.9 L1203.8,792.3 L1189.5,793.5 L1174.9,793.5 L1160.4,792.3 L1146.7,789.9 L1134.3,786.5 L1123.7,782.1 L1115.2,776.9 L1109.2,771.2 L1105.9,765.1 L1105.4,758.9 L1107.8,752.8 L1113.0,747.0" stroke="#cfe2f6" stroke-width="2.1" opacity="0.64"/>
    <path d="M1279.3,683.8 L1273.5,688.7 L1266.8,693.5 L1259.3,698.2 L1251.0,702.8 L1242.1,707.2 L1232.7,711.3 L1222.9,715.1 L1212.9,718.5 L1202.7,721.5 L1192.6,724.0 L1182.6,726.1 L1172.9,727.6 L1163.6,728.6 L1154.9,729.0 L1146.9,728.9 L1139.6,728.2" stroke="#cfe2f6" stroke-width="3.8" opacity="0.84"/>
    <path d="M1264.0,611.1 L1271.2,615.0 L1276.2,619.6 L1278.9,625.0 L1279.2,630.9 L1277.1,637.2 L1272.7,643.7 L1266.2,650.2 L1257.5,656.6 L1247.1,662.7 L1235.2,668.2 L1222.1,673.2 L1208.2,677.4 L1193.8,680.7 L1179.4,683.0 L1165.3,684.3 L1151.9,684.5" stroke="#e6f0fb" stroke-width="1.8" opacity="0.61"/>
    <path d="M1277.2,680.4 L1277.3,685.0 L1272.8,689.1 L1264.0,692.5 L1251.2,695.1 L1235.2,696.7 L1216.5,697.3 L1196.1,696.8 L1174.9,695.2 L1153.9,692.7 L1134.0,689.3 L1116.2,685.2 L1101.3,680.5 L1089.9,675.6 L1082.6,670.6 L1079.8,665.8 L1081.5,661.4" stroke="#ffffff" stroke-width="3.6" opacity="0.79"/>
    <path d="M1262.3,705.4 L1247.0,713.3 L1229.4,720.3 L1210.0,726.1 L1189.9,730.3 L1170.0,732.9 L1151.0,733.8 L1133.8,732.7 L1119.3,729.9 L1108.0,725.5 L1100.4,719.6 L1097.0,712.5 L1097.8,704.5 L1102.8,696.0 L1111.8,687.3 L1124.4,678.9 L1140.0,671.1" stroke="#cfe2f6" stroke-width="4.2" opacity="0.66"/>
    <path d="M1259.4,665.4 L1254.2,669.5 L1247.7,673.8 L1239.8,678.0 L1230.9,682.1 L1221.0,686.0 L1210.5,689.6 L1199.5,692.8 L1188.3,695.6 L1177.2,697.9 L1166.3,699.6 L1156.0,700.7 L1146.5,701.2 L1137.9,701.1 L1130.5,700.3 L1124.4,699.0 L1119.9,697.0" stroke="#e6f0fb" stroke-width="3.9" opacity="1.00"/>
    <path d="M1267.4,606.5 L1250.7,613.8 L1231.6,620.7 L1210.9,626.9 L1189.5,632.1 L1168.4,636.1 L1148.6,638.7 L1131.0,639.8 L1116.4,639.3 L1105.4,637.3 L1098.7,633.8 L1096.4,629.1 L1098.6,623.2 L1105.4,616.6 L1116.3,609.4 L1130.9,602.1 L1148.5,594.9" stroke="#ffffff" stroke-width="2.8" opacity="0.80"/>
    <path d="M1246.9,788.3 L1245.7,790.6 L1243.7,793.1 L1240.8,795.7 L1237.2,798.3 L1232.8,800.9 L1227.9,803.4 L1222.5,805.9 L1216.6,808.1 L1210.4,810.2 L1204.1,812.0 L1197.7,813.6 L1191.4,814.8 L1185.3,815.7 L1179.4,816.3 L1174.0,816.5 L1169.2,816.4" stroke="#e6f0fb" stroke-width="2.0" opacity="0.75"/>
    <path d="M1274.3,689.7 L1269.7,691.7 L1263.7,693.0 L1256.4,693.4 L1247.9,693.0 L1238.4,691.8 L1228.0,689.8 L1217.0,687.1 L1205.4,683.6 L1193.6,679.6 L1181.8,674.9 L1170.1,669.8 L1158.8,664.3 L1148.0,658.4 L1138.0,652.4 L1128.9,646.3 L1120.9,640.3" stroke="#ffffff" stroke-width="4.5" opacity="0.96"/>
    <path d="M1220.3,786.9 L1216.4,789.3 L1211.9,791.8 L1206.8,794.3 L1201.2,796.8 L1195.3,799.3 L1189.1,801.6 L1182.8,803.9 L1176.4,805.9 L1170.0,807.7 L1163.8,809.3 L1157.9,810.6 L1152.3,811.7 L1147.3,812.4 L1142.7,812.8 L1138.8,812.8 L1135.6,812.6" stroke="#e6f0fb" stroke-width="4.1" opacity="0.90"/>
    <path d="M1249.4,779.2 L1247.9,782.2 L1245.4,785.4 L1241.8,788.5 L1237.3,791.7 L1231.8,794.8 L1225.5,797.7 L1218.5,800.5 L1210.9,803.0 L1203.0,805.2 L1194.7,807.1 L1186.4,808.6 L1178.1,809.8 L1170.0,810.5 L1162.3,810.7 L1155.1,810.6 L1148.5,810.0" stroke="#cfe2f6" stroke-width="2.2" opacity="1.00"/>
    <path d="M1240.5,625.1 L1237.4,627.8 L1233.4,630.6 L1228.5,633.5 L1222.8,636.3 L1216.4,639.0 L1209.3,641.7 L1201.7,644.1 L1193.8,646.4 L1185.5,648.5 L1177.1,650.3 L1168.7,651.8 L1160.4,653.0 L1152.3,653.9 L1144.7,654.4 L1137.5,654.6 L1130.9,654.4" stroke="#ffffff" stroke-width="2.9" opacity="0.74"/>
    <path d="M1269.5,678.3 L1267.9,680.9 L1265.3,683.8 L1261.7,686.9 L1257.2,690.2 L1251.9,693.5 L1245.9,697.0 L1239.2,700.4 L1232.0,703.8 L1224.3,707.1 L1216.4,710.2 L1208.3,713.1 L1200.2,715.7 L1192.1,718.1 L1184.3,720.1 L1176.8,721.8 L1169.8,723.0" stroke="#ffffff" stroke-width="2.4" opacity="0.65"/>
    <path d="M1256.9,773.3 L1255.6,776.4 L1252.4,779.7 L1247.4,783.2 L1240.8,786.7 L1232.7,790.1 L1223.4,793.4 L1213.3,796.4 L1202.6,799.0 L1191.7,801.1 L1180.9,802.7 L1170.6,803.7 L1161.1,804.1 L1152.7,803.9 L1145.7,803.0 L1140.3,801.6 L1136.6,799.6" stroke="#ffffff" stroke-width="4.5" opacity="0.58"/>
    <path d="M1316.1,580.3 L1319.0,587.1 L1318.9,593.6 L1315.9,599.7 L1310.0,605.2 L1301.3,610.0 L1290.0,614.0 L1276.5,617.0 L1261.0,619.1 L1243.8,620.2 L1225.4,620.1 L1206.2,619.1 L1186.6,617.0 L1167.2,613.9 L1148.2,609.9 L1130.2,605.1 L1113.6,599.5" stroke="#cfe2f6" stroke-width="2.9" opacity="0.81"/>
    <path d="M1217.5,792.1 L1209.2,791.3 L1200.5,789.9 L1191.7,788.0 L1182.8,785.6 L1174.0,782.7 L1165.6,779.4 L1157.6,775.8 L1150.2,771.9 L1143.7,767.8 L1138.0,763.7 L1133.3,759.4 L1129.7,755.3 L1127.3,751.2 L1126.1,747.4 L1126.2,743.8 L1127.5,740.6" stroke="#cfe2f6" stroke-width="3.8" opacity="0.64"/>
    <path d="M1269.6,799.1 L1263.1,802.0 L1254.2,804.7 L1243.3,807.2 L1230.9,809.2 L1217.4,810.8 L1203.4,811.8 L1189.5,812.2 L1176.3,812.0 L1164.3,811.2 L1154.0,809.9 L1145.8,808.0 L1140.1,805.7 L1137.2,803.1 L1137.0,800.3 L1139.7,797.3 L1145.2,794.3" stroke="#ffffff" stroke-width="2.0" opacity="0.99"/>
    <path d="M1250.3,751.2 L1251.9,753.1 L1252.2,755.3 L1251.2,758.0 L1249.0,760.9 L1245.6,764.0 L1241.0,767.3 L1235.5,770.6 L1229.1,773.9 L1221.9,777.2 L1214.2,780.3 L1206.1,783.1 L1197.8,785.7 L1189.5,787.8 L1181.4,789.6 L1173.6,790.9 L1166.5,791.8" stroke="#e6f0fb" stroke-width="1.7" opacity="0.75"/>
    <path d="M1259.4,643.1 L1252.4,646.4 L1244.6,649.7 L1236.3,652.9 L1227.5,656.0 L1218.4,659.0 L1209.1,661.7 L1199.8,664.2 L1190.5,666.4 L1181.5,668.3 L1172.8,669.8 L1164.7,671.0 L1157.2,671.8 L1150.4,672.1 L1144.6,672.1 L1139.6,671.6 L1135.7,670.8" stroke="#e6f0fb" stroke-width="2.8" opacity="0.80"/>
    <path d="M1261.2,675.1 L1263.0,676.6 L1263.8,678.3 L1263.6,680.1 L1262.5,681.9 L1260.5,683.8 L1257.5,685.7 L1253.7,687.6 L1249.1,689.5 L1243.7,691.3 L1237.6,693.1 L1230.9,694.8 L1223.6,696.3 L1215.8,697.8 L1207.7,699.1 L1199.3,700.2 L1190.7,701.2" stroke="#ffffff" stroke-width="2.8" opacity="0.71"/>
    <path d="M1267.0,720.2 L1271.1,728.9 L1271.4,737.1 L1267.8,744.3 L1260.7,750.3 L1250.1,754.8 L1236.7,757.6 L1220.9,758.7 L1203.4,757.8 L1185.0,755.2 L1166.4,750.9 L1148.3,745.1 L1131.7,737.9 L1117.1,729.9 L1105.2,721.2 L1096.5,712.2 L1091.3,703.3" stroke="#cfe2f6" stroke-width="2.8" opacity="0.72"/>
    <ellipse cx="1180" cy="795" rx="170" ry="40" stroke="#c5daf4" stroke-width="3.5" opacity="0.56"/>
    <ellipse cx="1175" cy="792" rx="125" ry="29" stroke="#c5daf4" stroke-width="3.5" opacity="0.56"/>
    <ellipse cx="1170" cy="790" rx="80" ry="19" stroke="#d3e4f7" stroke-width="3.5" opacity="0.62"/>
  </g>
</g>

<!-- ===== dashed lines ===== -->
<g stroke="#17284a" stroke-width="2.4" stroke-dasharray="10.5 6">
  <line x1="545" y1="774.7" x2="710" y2="774.7"/>
  <line x1="526" y1="938.7" x2="710" y2="938.7"/>
  <line x1="406" y1="1089.8" x2="710" y2="1089.8"/>
  <line x1="406" y1="1260" x2="710" y2="1260"/>
</g>
<g fill="#173872">
  <circle cx="713" cy="774.7" r="8"/>
  <circle cx="713" cy="938.7" r="8"/>
  <circle cx="713" cy="1089.8" r="8"/>
  <circle cx="713" cy="1260" r="8"/>
</g>

<!-- ===== arrows ===== -->
<g id="arrows" fill="#1a3e80">
  <path id="ap1" d="M873.5,989.6 C850,1000 836,1020 832,1040 C829,1050 830,1058 832,1064 L822,1066 L851,1082.5 L868,1053.5 L855,1056 C852,1046 851,1036 854,1024 C858,1008 866,995 873.5,989.6 Z M887.5,1072.7 C905,1068 920,1055 926,1036 C930,1024 930,1012 927,1001 L939.7,996 L910,979.3 L892,1008.7 L905,1006 C908,1014 909,1024 906,1036 C902,1052 896,1064 887.5,1072.7 Z"/>
  <use href="#ap1" transform="translate(248.5,-69)"/>
  <use href="#ap1" transform="translate(488,193.5)"/>
</g>

<!-- banner -->
<path d="M202,0 H1297 V140 Q1297,167 1270,167 H229 Q202,167 202,140 Z" fill="#173a77"/>
<text x="385" y="113.5" font-size="87" font-weight="bold" fill="#dbe7f8" stroke="#dbe7f8" stroke-width="2.4" textLength="742" lengthAdjust="spacingAndGlyphs">4 Layer Structure</text>

<!-- ===== paws ===== -->
<g id="paw1" fill="#dae6f8">
  <ellipse cx="272" cy="53" rx="7.5" ry="11" transform="rotate(-8 272 53)"/>
  <ellipse cx="291" cy="41.3" rx="8" ry="12"/>
  <ellipse cx="309.7" cy="49" rx="9" ry="11" transform="rotate(30 309.7 49)"/>
  <ellipse cx="315.7" cy="70.3" rx="9" ry="10" transform="rotate(45 315.7 70.3)"/>
  <path d="M264,79 C262,70 275,63 285,63 C297,63 304,74 304.5,86 C305,94 301,97 298,96.5 C293,96 290,88 282,86 C274,84 265,86 264,79 Z"/>
</g>
<use href="#paw1" transform="translate(1260,44) scale(-1.3,1.3) translate(-263,-29)"/>

<!-- labels -->
<g fill="#dce8fb" stroke="#183668" stroke-width="4">
  <rect x="39" y="739" width="503" height="70" rx="35"/>
  <rect x="39" y="903" width="484" height="69" rx="34.5"/>
  <rect x="39" y="1065" width="363" height="69" rx="34.5"/>
  <rect x="39" y="1228" width="363" height="69" rx="34.5"/>
</g>
<g fill="#1b3a6d" stroke="#1b3a6d" stroke-width="0.7" font-size="40.5">
  <text x="55.2" y="789.4" textLength="460" lengthAdjust="spacingAndGlyphs">Breathable Fabric Layer</text>
  <text x="54.5" y="948.9" textLength="430.7" lengthAdjust="spacingAndGlyphs">Ultra Absorbent Layer</text>
  <text x="56" y="1112.7" textLength="315.4" lengthAdjust="spacingAndGlyphs">Leakproof Layer</text>
  <text x="56" y="1273.5" textLength="288.7" lengthAdjust="spacingAndGlyphs">Non-Slip Layer</text>
</g>
</svg>
</body></html>
